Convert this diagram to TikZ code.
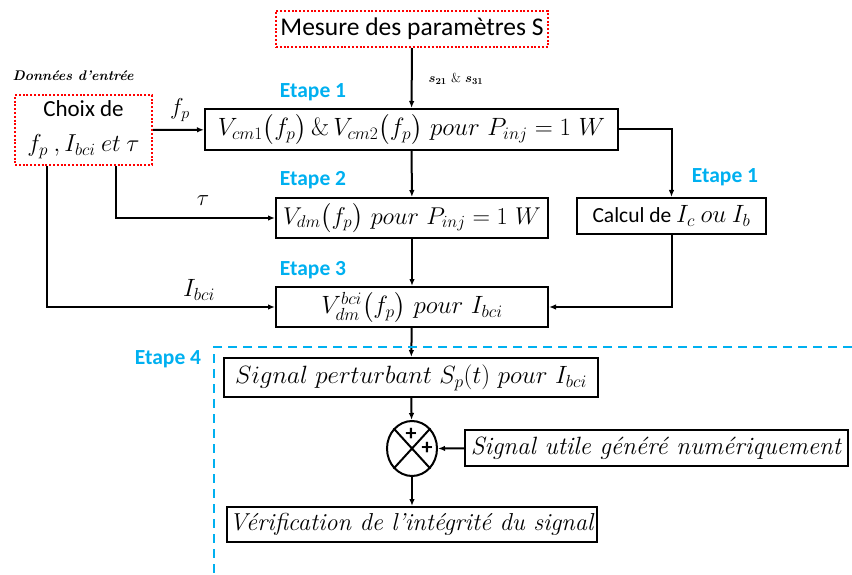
\documentclass[tikz,border=0pt]{standalone}
\usepackage{fix-cm}
\usepackage{amsmath,amssymb}
\usepackage{fontspec}
\newfontfamily\calibri{Carlito}
\usepackage{xcolor}
\usepackage{tikz}
\usetikzlibrary{arrows.meta,shapes.geometric}
\definecolor{etapeblue}{HTML}{00B0F0}

\begin{document}
\begin{tikzpicture}[x=1pt, y=-1pt,
textbox/.style={draw, line width=2pt, inner sep=2, align=center, font=\fontsize{25}{28}\selectfont},
inputbox/.style={draw=red, line width=2pt, dash pattern=on 2pt off 1.8pt, inner sep=2, align=center, font=\calibri\fontsize{23}{28}\selectfont},
etape/.style={text=etapeblue, inner sep=0, font=\calibri\bfseries\fontsize{21.5}{24}\selectfont},
lbl/.style={font=\fontsize{23}{26}\selectfont},
plus/.style={inner sep=0, font=\calibri\bfseries\fontsize{22}{22}\selectfont},
link/.style={line width=2pt, -{Latex[length=7pt,width=5.5pt]}}]
\useasboundingbox (0,0) rectangle (852,575);
%text width
\node[inputbox, minimum width=272, minimum height=36, font=\calibri\fontsize{25.5}{28}\selectfont] (mes) at (412,29) {Mesure des paramètres S};
\node[inputbox, minimum width=137, minimum height=70, font=\calibri\fontsize{23}{35}\selectfont] (choix) at (83.5,130) {Choix de\\{\fontsize{24.5}{35}\selectfont$f_p\ ,I_{bci}\ et\ \tau$}};
\node[font=\bfseries\itshape\fontsize{14}{16}\selectfont] (donnees) at (73,76) {Données d'entrée};
\node[textbox, minimum width=413, minimum height=41] (vcm) at (411.5,129.5) {$V_{cm1}\big(f_p\big)\,\&\,V_{cm2}\big(f_p\big)\ pour\ P_{inj}=1\ W$};
\node[textbox, minimum width=272, minimum height=40, font=\fontsize{24.3}{28}\selectfont] (vdm) at (412,218) {$V_{dm}\big(f_p\big)\ pour\ P_{inj}=1\ W$};
\node[textbox, minimum width=189, minimum height=36, font=\calibri\fontsize{21.5}{25}\selectfont] (calc) at (671.5,216) {Calcul de {\fontsize{25}{28}\selectfont$I_c\ ou\ I_b$}};
\node[textbox, minimum width=272, minimum height=40] (vbci) at (412,307) {$V_{dm}^{bci}\big(f_p\big)\ pour\ I_{bci}$};
\node[textbox, minimum width=374, minimum height=39] (sp) at (411,377.5) {$Signal\ perturbant\ S_p(t)\ pour\ I_{bci}$};
\node[draw, ellipse, line width=2pt, minimum width=50, minimum height=55] (sum) at (412,448.5) {};
\node[textbox, minimum width=383, minimum height=36, font=\fontsize{25}{28}\selectfont] (utile) at (656.5,448) {\textit{Signal utile généré numériquement}};
\node[textbox, minimum width=370, minimum height=35, font=\fontsize{24.5}{28}\selectfont] (verif) at (412,524.5) {\textit{Vérification de l'intégrité du signal}};
\draw[line width=2pt] (sum.north west) -- (sum.south east);
\draw[line width=2pt] (sum.north east) -- (sum.south west);
\node[plus] (plus1) at (411,434.5) {+};
\node[plus] (plus2) at (427,448) {+};
\node[etape] (e1) at (313,92) {Etape 1};
\node[etape] (e2) at (313,180) {Etape 2};
\node[etape] (e3) at (313,270) {Etape 3};
\node[etape] (e1b) at (725,177) {Etape 1};
\node[etape] (e4) at (168,359) {Etape 4};
\node[lbl] (lfp) at (180,110) {$f_p$};
\node[lbl] (ltau) at (203,201) {$\tau$};
\node[lbl, font=\fontsize{25}{28}\selectfont] (libci) at (199,290) {$I_{bci}$};
\node[font=\fontsize{13}{15}\selectfont\boldmath] (ls) at (456,79) {$s_{21}$ \& $s_{31}$};
\draw[link] (mes) -- (vcm);
\draw[link] (choix) -- (vcm);
\draw[link] ([xshift=32.5pt]choix.south) |- (vdm.west);
\draw[link] ([xshift=-36.5pt]choix.south) |- (vbci.west);
\draw[link] (vcm.east) -| (calc.north);
\draw[link] (vcm) -- (vdm);
\draw[link] (vdm) -- (vbci);
\draw[link] (calc.south) |- (vbci.east);
\draw[link] (vbci) -- (sp);
\draw[link] (sp) -- (sum);
\draw[link] (utile) -- (sum);
\draw[link] (sum) -- (verif);
\draw[etapeblue, line width=2.4pt, dash pattern=on 9pt off 6pt] (852,347) -| (214,575);
\end{tikzpicture}
\end{document}
